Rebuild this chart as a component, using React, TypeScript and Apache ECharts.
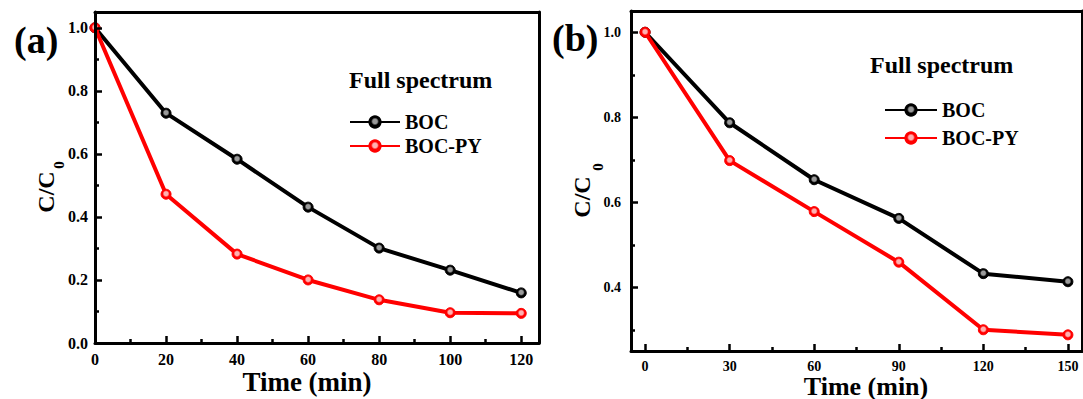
import React, { useEffect, useRef } from "react";
import * as echarts from "echarts";

const timeA = [0, 20, 40, 60, 80, 100, 120];
const bocA = [1.0, 0.729, 0.583, 0.431, 0.301, 0.231, 0.159];
const bocPyA = [1.0, 0.472, 0.282, 0.2, 0.137, 0.096, 0.094];

const timeB = [0, 30, 60, 90, 120, 150];
const bocB = [1.0, 0.787, 0.653, 0.562, 0.432, 0.413];
const bocPyB = [1.0, 0.698, 0.578, 0.459, 0.3, 0.288];

const xTicksA = [0, 20, 40, 60, 80, 100, 120];
const xMinorA = [10, 30, 50, 70, 90, 110];
const yTicksA = [0, 0.2, 0.4, 0.6, 0.8, 1.0];
const yMinorA = [0.1, 0.3, 0.5, 0.7, 0.9];

const xTicksB = [0, 30, 60, 90, 120, 150];
const xMinorB = [15, 45, 75, 105, 135];
const yTicksB = [0.4, 0.6, 0.8, 1.0];
const yMinorB = [0.3, 0.5, 0.7, 0.9];

const seriesNames = ["BOC", "BOC-PY"];
const panelLabels = ["(a)", "(b)"];
const legendTitle = "Full spectrum";
const xTitle = "Time (min)";

const FONT = "'Liberation Serif', 'Times New Roman', serif";

function markerColor(edge: string, center: string) {
  return {
    type: "radial",
    x: 0.5,
    y: 0.45,
    r: 0.5,
    colorStops: [
      { offset: 0, color: center },
      { offset: 0.4, color: center },
      { offset: 0.7, color: edge },
      { offset: 1, color: edge },
    ],
  };
}

export default function App() {
  const ref = useRef<HTMLDivElement>(null);
  useEffect(() => {
    if (!ref.current) return;
    const chart = echarts.init(ref.current, null, { renderer: "svg" });

    const LINE = { color: "#000", width: 3 };
    const TICK = { color: "#000", width: 2.5 };

    const mainX = (grid: number, min: number, max: number, ticks: number[], fs: number) => ({
      type: "value",
      gridIndex: grid,
      position: "bottom",
      min,
      max,
      axisLine: { show: true, onZero: false, lineStyle: LINE },
      axisTick: { show: true, inside: true, length: 7, customValues: ticks, lineStyle: TICK },
      axisLabel: {
        show: true,
        customValues: ticks,
        fontSize: fs,
        fontWeight: "bold",
        fontFamily: FONT,
        color: "#000",
        margin: 8,
        formatter: (v: number) => String(Math.round(v)),
      },
      splitLine: { show: false },
      z: 5,
    });
    const minorX = (grid: number, min: number, max: number, ticks: number[]) => ({
      type: "value",
      gridIndex: grid,
      position: "bottom",
      min,
      max,
      axisLine: { show: false, onZero: false },
      axisTick: { show: true, inside: true, length: 4, customValues: ticks, lineStyle: TICK },
      axisLabel: { show: false },
      splitLine: { show: false },
      z: 5,
    });
    const frameX = (grid: number, min: number, max: number) => ({
      type: "value",
      gridIndex: grid,
      position: "top",
      min,
      max,
      axisLine: { show: true, onZero: false, lineStyle: LINE },
      axisTick: { show: false },
      axisLabel: { show: false },
      splitLine: { show: false },
      z: 5,
    });
    const mainY = (grid: number, min: number, max: number, ticks: number[], fs: number, margin: number) => ({
      type: "value",
      gridIndex: grid,
      position: "left",
      min,
      max,
      axisLine: { show: true, onZero: false, lineStyle: LINE },
      axisTick: { show: true, inside: true, length: 7, customValues: ticks, lineStyle: TICK },
      axisLabel: {
        show: true,
        customValues: ticks,
        fontSize: fs,
        fontWeight: "bold",
        fontFamily: FONT,
        color: "#000",
        margin,
        formatter: (v: number) => v.toFixed(1),
      },
      splitLine: { show: false },
      z: 5,
    });
    const minorY = (grid: number, min: number, max: number, ticks: number[]) => ({
      type: "value",
      gridIndex: grid,
      position: "left",
      min,
      max,
      axisLine: { show: false, onZero: false },
      axisTick: { show: true, inside: true, length: 4, customValues: ticks, lineStyle: TICK },
      axisLabel: { show: false },
      splitLine: { show: false },
      z: 5,
    });
    const frameY = (grid: number, min: number, max: number) => ({
      type: "value",
      gridIndex: grid,
      position: "right",
      min,
      max,
      axisLine: { show: true, onZero: false, lineStyle: LINE },
      axisTick: { show: false },
      axisLabel: { show: false },
      splitLine: { show: false },
      z: 5,
    });

    const mkSeries = (name: string, xs: number[], ys: number[], xi: number, yi: number, red: boolean) => ({
      type: "line",
      name,
      xAxisIndex: xi,
      yAxisIndex: yi,
      data: xs.map((x, i) => [x, ys[i]]),
      symbol: "circle",
      symbolSize: 10,
      lineStyle: { color: red ? "#ff0000" : "#000", width: 4 },
      itemStyle: {
        color: red ? markerColor("#ff0000", "#ffb0b0") : markerColor("#000", "#9a9a9a"),
        borderColor: red ? "#ff0000" : "#000",
        borderWidth: 1,
      },
      z: red ? 3 : 2,
    });

    const txt = (text: string, x: number, y: number, fs: number, align = "center", rotation = 0) => ({
      type: "text",
      x,
      y,
      rotation,
      style: {
        text,
        fontSize: fs,
        fontWeight: "bold",
        fontFamily: FONT,
        fill: "#000",
        align,
        verticalAlign: "middle",
      },
      z: 10,
    });

    const legendCommon = {
      orient: "vertical",
      data: seriesNames,
      selectedMode: false,
      padding: 0,
      itemHeight: 14,
      textStyle: { fontSize: 20, fontWeight: "bold", fontFamily: FONT, color: "#000", lineHeight: 20 },
    };

    chart.setOption({
      animation: false,
      backgroundColor: "#fff",
      grid: [
        { left: 95, top: 12, width: 444, height: 331, show: false },
        { left: 631, top: 11, width: 451, height: 340, show: false },
      ],
      xAxis: [
        mainX(0, 0, 125, xTicksA, 16),
        minorX(0, 0, 125, xMinorA),
        frameX(0, 0, 125),
        mainX(1, -5, 155, xTicksB, 14),
        minorX(1, -5, 155, xMinorB),
        frameX(1, -5, 155),
      ],
      yAxis: [
        mainY(0, 0, 1.05, yTicksA, 16, 7),
        minorY(0, 0, 1.05, yMinorA),
        frameY(0, 0, 1.05),
        mainY(1, 0.25, 1.05, yTicksB, 14, 10),
        minorY(1, 0.25, 1.05, yMinorB),
        frameY(1, 0.25, 1.05),
      ],
      legend: [
        { ...legendCommon, left: 349, top: 112, itemWidth: 50, itemGap: 4 },
        { ...legendCommon, left: 884, top: 100, itemWidth: 52, itemGap: 8 },
      ],
      series: [
        mkSeries(seriesNames[0], timeA, bocA, 0, 0, false),
        mkSeries(seriesNames[1], timeA, bocPyA, 0, 0, true),
        mkSeries(seriesNames[0], timeB, bocB, 3, 3, false),
        mkSeries(seriesNames[1], timeB, bocPyB, 3, 3, true),
      ],
      graphic: [
        txt(panelLabels[0], 14, 40, 38, "left"),
        txt(panelLabels[1], 552, 38, 38, "left"),
        txt(legendTitle, 349, 80, 24, "left"),
        txt(legendTitle, 870, 65, 24, "left"),
        txt(xTitle, 307, 382, 27),
        txt(xTitle, 866, 386, 26),
        txt("C/C", 46, 192, 24, "center", Math.PI / 2),
        txt("0", 59, 165, 15, "center", Math.PI / 2),
        txt("C/C", 582, 197, 24, "center", Math.PI / 2),
        txt("0", 598, 167, 15, "center", Math.PI / 2),
      ],
    });
    return () => chart.dispose();
  }, []);
  return (
    <div
      ref={ref}
      style={{ position: "fixed", left: 0, top: 0, width: 1083, height: 399 }}
    />
  );
}
